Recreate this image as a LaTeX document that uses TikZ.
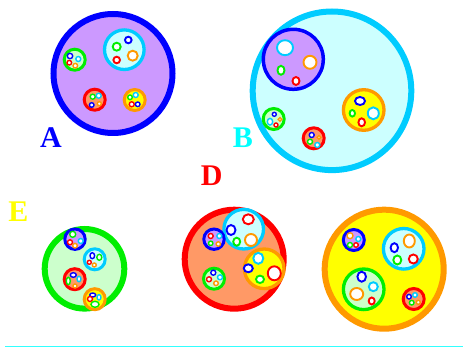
\documentclass[tikz,border=0pt]{standalone}
\usepackage{fontspec}
\setmainfont{Liberation Serif}
\usepackage{tikz}
\definecolor{setblue}{HTML}{0000FF}
\definecolor{setlav}{HTML}{CC99FF}
\definecolor{setcyan}{HTML}{00CCFF}
\definecolor{setlcyan}{HTML}{CCFFFF}
\definecolor{setgreen}{HTML}{00EE00}
\definecolor{setlgreen}{HTML}{CCFFCC}
\definecolor{setred}{HTML}{FF0000}
\definecolor{setsalmon}{HTML}{FF9966}
\definecolor{setorange}{HTML}{FF9900}
\definecolor{setyellow}{HTML}{FFFF00}
\definecolor{labcyan}{HTML}{00FFFF}
\definecolor{linecyan}{HTML}{33FFFF}

\begin{document}
\begin{tikzpicture}[x=1pt,y=-1pt,
  big/.style={line width=6pt},
  mid/.style={line width=3.3pt},
  small/.style={line width=3pt},
  blob/.style={fill=white,line width=1.9pt},
  dot/.style={fill=white,line width=1.4pt},
  bluset/.style={draw=setblue,fill=setlav},
  cyanset/.style={draw=setcyan,fill=setlcyan},
  greenset/.style={draw=setgreen,fill=setlgreen},
  redset/.style={draw=setred,fill=setsalmon},
  orangeset/.style={draw=setorange,fill=setyellow},
  lbl/.style={inner sep=0pt,font=\fontsize{30}{30}\selectfont\bfseries}]
\useasboundingbox (0,0) rectangle (468,347);

% set A
\draw[bluset,big] (113,73.5) circle (59.5);
\draw[cyanset,mid] (124.3,49.7) circle (19.8);
\draw[blob,draw=setgreen] (116.7,46.7) circle (4);
\draw[blob,draw=setblue] (128.3,40) circle (3.3);
\draw[blob,draw=setred] (116.7,60) circle (3.3);
\draw[blob,draw=setorange] (132.7,55.7) circle (5);
\draw[greenset,small] (74.7,59.7) circle (10.5);
\draw[dot,draw=setblue] (70,56) circle (2.7);
\draw[dot,draw=setcyan] (78.3,59) circle (2.5);
\draw[dot,draw=setred] (69.3,62.7) circle (2.3);
\draw[dot,draw=setorange] (75.3,65.7) circle (2.3);
\draw[redset,small] (94.7,99.7) circle (10.5);
\draw[dot,draw=setgreen] (92.7,96.7) circle (2.5);
\draw[dot,draw=setcyan] (98.7,95.7) circle (2.5);
\draw[dot,draw=setblue] (91.7,105) circle (2.3);
\draw[dot,draw=setorange] (99.3,103.7) circle (2);
\draw[orangeset,small] (134.7,100) circle (10.5);
\draw[dot,draw=setcyan] (135.7,95) circle (2.5);
\draw[dot,draw=setgreen] (130,97.3) circle (2.3);
\draw[dot,draw=setred] (131.7,104.3) circle (2.5);
\draw[dot,draw=setblue] (137.7,104.3) circle (2.3);
\node[lbl,text=setblue] (labA) at (51,138) {A};

% set B
\draw[cyanset,big] (332,90.8) circle (79.3);
\draw[bluset,line width=3.5pt] (293.3,59.3) circle (30);
\draw[blob,draw=setcyan] (285,47.7) ellipse (8 and 7.5);
\draw[blob,draw=setorange] (310,62.3) circle (6.5);
\draw[blob,draw=setgreen] (281,70.3) ellipse (3.5 and 4.5);
\draw[blob,draw=setred] (296,81) ellipse (3.5 and 4);
\draw[orangeset,mid] (363.7,110) circle (20.3);
\draw[blob,draw=setblue] (360,101) ellipse (5 and 4);
\draw[blob,draw=setgreen] (352.3,113.3) ellipse (2.7 and 3.3);
\draw[blob,draw=setcyan] (373.3,113.3) ellipse (5.5 and 6);
\draw[blob,draw=setred] (361.7,122.3) ellipse (3.3 and 4);
\draw[greenset,small] (273.7,119) circle (10.5);
\draw[dot,draw=setblue] (274.3,114.3) circle (2);
\draw[dot,draw=setcyan] (270,121.7) ellipse (2.7 and 3.3);
\draw[dot,draw=setorange] (280,119.3) circle (1.8);
\draw[dot,draw=setred] (276,125) circle (2);
\draw[redset,small] (313.7,138.3) circle (10.5);
\draw[dot,draw=setblue] (311.7,135) circle (2.5);
\draw[dot,draw=setorange] (319,137.3) circle (1.8);
\draw[dot,draw=setgreen] (310,141.7) circle (2.5);
\draw[dot,draw=setcyan] (317.3,145) circle (2.5);
\node[lbl,text=labcyan] (labB) at (242.8,137.7) {B};

% set D
\node[lbl,text=setred] (labD) at (211.7,176) {D};
\draw[redset,big] (234.2,259.2) circle (49.5);
\draw[cyanset,mid] (243.7,229.2) circle (19.8);
\draw[blob,draw=setred] (248.3,219.3) ellipse (5.5 and 5);
\draw[blob,draw=setblue] (231,230) ellipse (4.5 and 5);
\draw[blob,draw=setgreen] (236.7,241.7) ellipse (3.5 and 4);
\draw[blob,draw=setorange] (251,240) circle (6);
\draw[orangeset,mid] (264.2,268.8) circle (19.8);
\draw[blob,draw=setcyan] (258.3,258.3) ellipse (5 and 5.5);
\draw[blob,draw=setblue] (248.3,268.3) ellipse (4.5 and 4);
\draw[blob,draw=setred] (274.3,273.3) ellipse (6.5 and 7);
\draw[blob,draw=setgreen] (260,279.3) ellipse (4 and 3.7);
\draw[bluset,small] (214,239.2) circle (10.2);
\draw[dot,draw=setred] (210.7,236) circle (2.5);
\draw[dot,draw=setcyan] (219.3,236) circle (2.5);
\draw[dot,draw=setgreen] (210.7,243.3) circle (2.2);
\draw[dot,draw=setorange] (218.3,244) circle (2.2);
\draw[greenset,small] (214,278.7) circle (10.5);
\draw[dot,draw=setblue] (213.3,272.7) circle (2.5);
\draw[dot,draw=setcyan] (220,277.3) circle (2.5);
\draw[dot,draw=setred] (209,279.3) circle (2.5);
\draw[dot,draw=setorange] (216,283.3) circle (2.3);

% set E
\node[lbl,text=setyellow] (labE) at (18.3,211.3) {E};
\draw[greenset,big] (84.5,268.8) circle (39.8);
\draw[bluset,small] (75,239.2) circle (10.2);
\draw[dot,draw=setgreen] (72.7,234.3) circle (3);
\draw[dot,draw=setcyan] (80.7,241) circle (2.5);
\draw[dot,draw=setred] (70,242.3) circle (2.5);
\draw[dot,draw=setorange] (75,245.7) circle (2.3);
\draw[cyanset,small] (94.7,259.3) circle (10.5);
\draw[dot,draw=setblue] (92.3,255.7) ellipse (2.3 and 3);
\draw[dot,draw=setgreen] (99.3,257.3) ellipse (2.5 and 3);
\draw[dot,draw=setred] (89.3,262.3) circle (2);
\draw[dot,draw=setorange] (94.3,265) circle (2);
\draw[redset,small] (74.7,279.2) circle (10.5);
\draw[dot,draw=setblue] (73.3,275) ellipse (3 and 2.3);
\draw[dot,draw=setcyan] (79,279) ellipse (2 and 2.7);
\draw[dot,draw=setgreen] (68.3,281) ellipse (2 and 3.7);
\draw[dot,draw=setorange] (75,286) circle (2);
\draw[orangeset,small] (94.7,299.2) circle (10.5);
\draw[dot,draw=setblue] (92.7,295) ellipse (3 and 2);
\draw[dot,draw=setred] (90,299) circle (2.5);
\draw[dot,draw=setcyan] (99,297.3) ellipse (2 and 2.7);
\draw[dot,draw=setgreen] (95,304.3) ellipse (4 and 3);

% set without label
\draw[orangeset,big] (384.2,269.2) circle (59.5);
\draw[bluset,small] (353.8,240) circle (10.5);
\draw[dot,draw=setorange] (350,235.7) circle (3);
\draw[dot,draw=setcyan] (358.3,239) circle (2.5);
\draw[dot,draw=setgreen] (350,245) circle (2.5);
\draw[dot,draw=setred] (356,245) circle (2.3);
\draw[cyanset,mid] (403.7,248.8) circle (20.3);
\draw[blob,draw=setorange] (409.3,241) ellipse (5.5 and 6.5);
\draw[blob,draw=setblue] (394.3,247.7) ellipse (3.7 and 4.5);
\draw[blob,draw=setgreen] (397.3,260) ellipse (4 and 4.5);
\draw[blob,draw=setred] (413.3,259) circle (4.5);
\draw[greenset,mid] (363.7,289.3) circle (20.3);
\draw[blob,draw=setblue] (361.7,276.7) ellipse (4.3 and 5);
\draw[blob,draw=setcyan] (373.3,286.7) circle (4.5);
\draw[blob,draw=setorange] (356.7,294) ellipse (6.5 and 6);
\draw[blob,draw=setred] (371.7,301) ellipse (3 and 3.5);
\draw[redset,small] (413.7,299) circle (10.5);
\draw[dot,draw=setblue] (409,296.7) circle (2.3);
\draw[dot,draw=setcyan] (415,295) circle (2.3);
\draw[dot,draw=setgreen] (411.7,302.7) circle (2.3);
\draw[dot,draw=setorange] (418.3,302.3) circle (2);

% base line
\coordinate (lineL) at (5,346);
\coordinate (lineR) at (463,346);
\draw[linecyan,line width=1pt] (lineL) -- (lineR);
\end{tikzpicture}
\end{document}
